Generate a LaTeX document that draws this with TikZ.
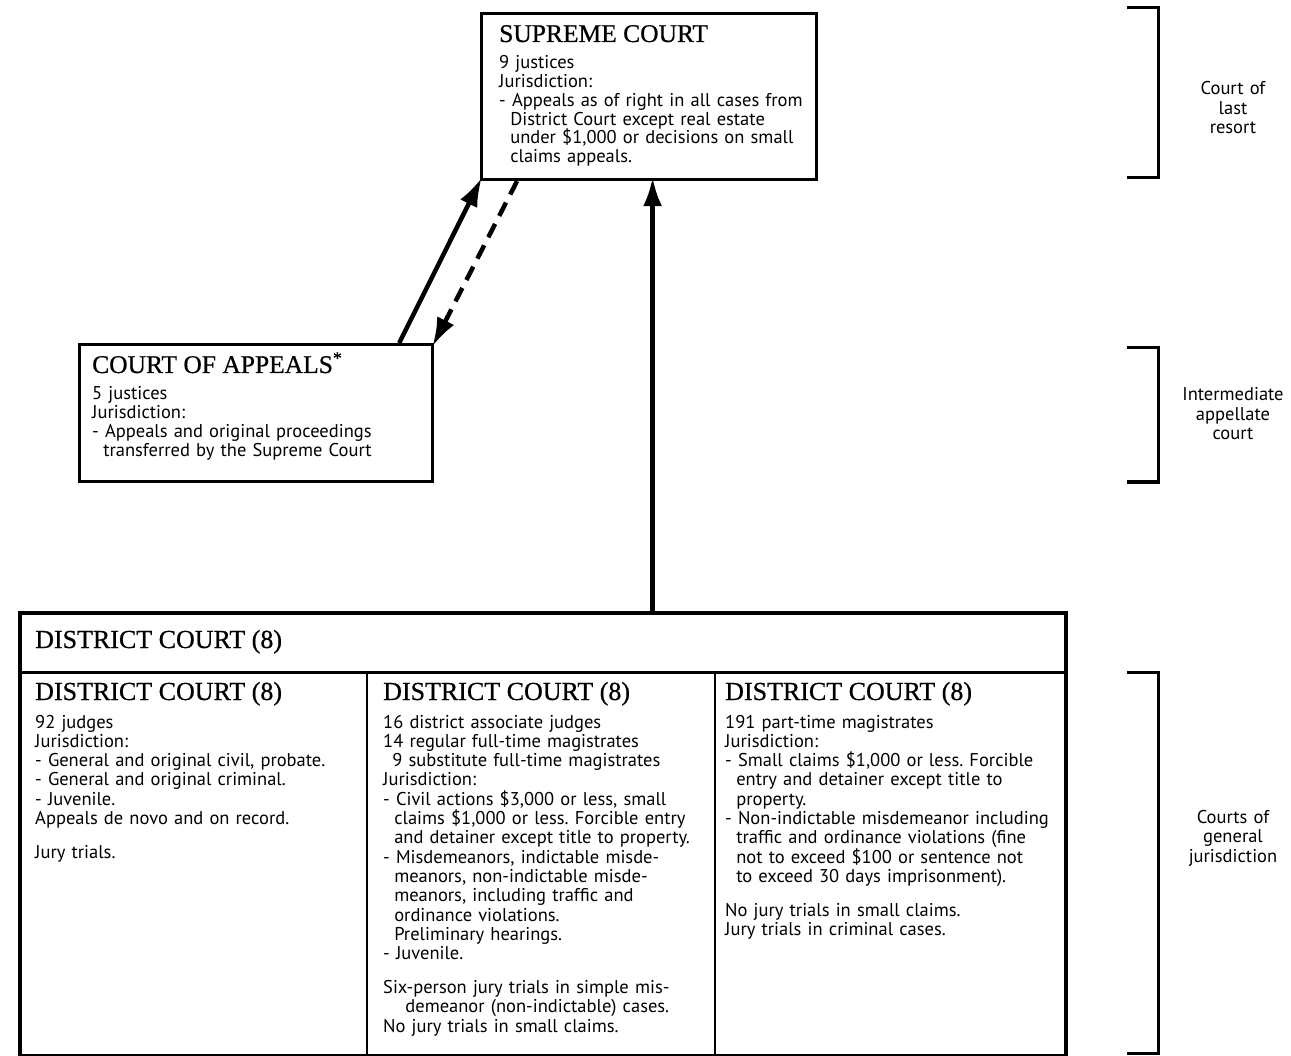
\documentclass[tikz,border=0pt]{standalone}
\usepackage{fontspec}
\setmainfont{PT Sans}
\newfontfamily\titlefont[FakeBold=0.6]{Liberation Serif}
\usetikzlibrary{arrows.meta,calc}
\newcommand{\hind}{\hspace*{0.6em}}
\frenchspacing
\begin{document}
\begin{tikzpicture}[x=1pt,y=-1pt,
  box/.style={draw, line width=3.2pt, inner sep=0pt, anchor=north west},
  body/.style={anchor=base west, inner sep=0pt, text width=370pt, align=left,
    font=\fontsize{18.5}{19.3}\selectfont},
  head/.style={anchor=base west, inner sep=0pt, font=\titlefont\fontsize{26}{28}\selectfont},
  side/.style={anchor=base, inner sep=0pt, text width=130pt, align=center, font=\fontsize{18.5}{19.5}\selectfont},
  arr/.style={line width=4.5pt, shorten >=-4pt, -{Latex[length=29pt,width=19pt]}},
  brk/.style={line width=3pt}]
\useasboundingbox (0,0) rectangle (1291,1056);
% boxes
\node[box, minimum width=335pt, minimum height=166pt] (sup) at (480,12) {};
\node[box, minimum width=353pt, minimum height=137pt] (app) at (78,343) {};
\node[box, line width=4pt, minimum width=1046pt, minimum height=443pt] (dist) at (18,611) {};
\draw[line width=3pt] (dist.west |- 0,672) -- (dist.east |- 0,672);
\draw[line width=2.5pt] (367,672) -- (367,1054);
\draw[line width=2.5pt] (715,672) -- (715,1054);
% texts
\node[head, font=\titlefont\fontsize{25.5}{28}\selectfont] (supt) at (499,42) {SUPREME COURT};
\node[body, font=\fontsize{18.5}{18.7}\selectfont] (supb) at (499,69) {9 justices\\
Jurisdiction:\\
- Appeals as of right in all cases from\\
\hind District Court except real estate\\
\hind under \$1,000 or decisions on small\\
\hind claims appeals.};
\node[head, font=\titlefont\fontsize{25.5}{28}\selectfont] (appt) at (92,373) {COURT OF APPEALS\textsuperscript{*}};
\node[body, font=\fontsize{18.5}{18.7}\selectfont] (appb) at (92,400) {5 justices\\
Jurisdiction:\\
- Appeals and original proceedings\\
\hind transferred by the Supreme Court};
\node[head] (dh) at (35,648) {DISTRICT COURT (8)};
\node[head] (d1t) at (35,700) {DISTRICT COURT (8)};
\node[head] (d2t) at (383,700) {DISTRICT COURT (8)};
\node[head] (d3t) at (725,700) {DISTRICT COURT (8)};
\node[body] (d1b) at (35,728) {92 judges\\
Jurisdiction:\\
- General and original civil, probate.\\
- General and original criminal.\\
- Juvenile.\\
Appeals de novo and on record.\\[14.5pt]
Jury trials.};
\node[body] (d2b) at (383,728) {16 district associate judges\\
14 regular full-time magistrates\\
\hspace*{0.5em}9 substitute full-time magistrates\\
Jurisdiction:\\
- Civil actions \$3,000 or less, small\\
\hind claims \$1,000 or less. Forcible entry\\
\hind and detainer except title to property.\\
- Misdemeanors, indictable misde-\\
\hind meanors, non-indictable misde-\\
\hind meanors, including traffic and\\
\hind ordinance violations.\\
\hind Preliminary hearings.\\
- Juvenile.\\[14.5pt]
Six-person jury trials in simple mis-\\
\hspace*{1.2em}demeanor (non-indictable) cases.\\
No jury trials in small claims.};
\node[body] (d3b) at (725,728) {191 part-time magistrates\\
Jurisdiction:\\
- Small claims \$1,000 or less. Forcible\\
\hind entry and detainer except title to\\
\hind property.\\
- Non-indictable misdemeanor including\\
\hind traffic and ordinance violations (fine\\
\hind not to exceed \$100 or sentence not\\
\hind to exceed 30 days imprisonment).\\[14.5pt]
No jury trials in small claims.\\
Jury trials in criminal cases.};
% connectors
\coordinate (s1) at ($(sup.south west)+(37,0)$);
\coordinate (a1) at ($(app.north east)+(-35,0)$);
\coordinate (vt) at ($(sup.south)+(3.5,0)$);
\draw[arr] (a1) -- (sup.south west);
\draw[arr, dash pattern=on 15pt off 9pt] (s1) -- (app.north east);
\draw[arr] (dist.north -| vt) -- (vt);
% brackets
\draw[brk] (1127,8) -| (1158,178) -- (1127,178);
\draw[brk] (1127,348) -| (1158,482) -- (1127,482);
\draw[brk] (1127,672) -| (1158,1053) -- (1127,1053);
\node[side] (l1) at (1233,95) {Court of\\last\\resort};
\node[side] (l2) at (1233,401) {Intermediate\\appellate\\court};
\node[side] (l3) at (1233,823) {Courts of\\general\\jurisdiction};
\end{tikzpicture}
\end{document}
